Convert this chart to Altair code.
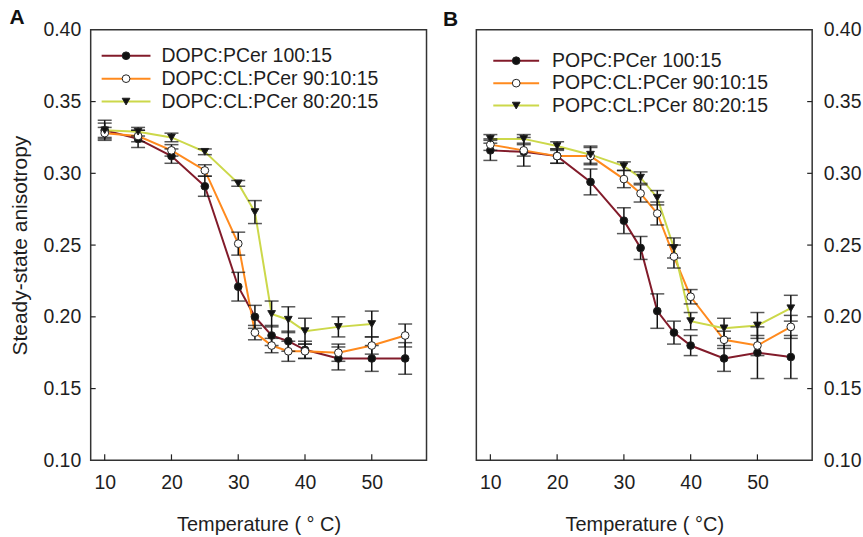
import altair as alt
import pandas as pd

# ---- data ----
temps = [10, 15, 20, 25, 30, 32.5, 35, 37.5, 40, 45, 50, 55]

names_A = ["DOPC:PCer 100:15", "DOPC:CL:PCer 90:10:15", "DOPC:CL:PCer 80:20:15"]
names_B = ["POPC:PCer 100:15", "POPC:CL:PCer 90:10:15", "POPC:CL:PCer 80:20:15"]

a1 = [0.330, 0.324, 0.312, 0.291, 0.221, 0.200, 0.187, 0.183, 0.177, 0.171, 0.171, 0.171]
a1_err = [0.005, 0.006, 0.005, 0.007, 0.010, 0.008, 0.007, 0.007, 0.006, 0.008, 0.009, 0.011]
a2 = [0.328, 0.326, 0.316, 0.302, 0.251, 0.189, 0.180, 0.176, 0.176, 0.175, 0.180, 0.187]
a2_err = [0.004, 0.004, 0.004, 0.004, 0.008, 0.005, 0.005, 0.007, 0.005, 0.006, 0.006, 0.008]
a3 = [0.330, 0.329, 0.325, 0.315, 0.293, 0.273, 0.202, 0.198, 0.190, 0.193, 0.195, None]
a3_err = [0.007, 0.003, 0.003, 0.002, 0.002, 0.008, 0.009, 0.009, 0.009, 0.007, 0.009, None]

b1 = [0.316, 0.315, 0.312, 0.294, 0.267, 0.248, 0.204, 0.189, 0.180, 0.171, 0.175, 0.172]
b1_err = [0.007, 0.010, 0.005, 0.009, 0.009, 0.008, 0.012, 0.008, 0.007, 0.009, 0.018, 0.015]
b2 = [0.320, 0.316, 0.312, 0.312, 0.296, 0.286, 0.272, 0.242, 0.214, 0.184, 0.180, 0.193]
b2_err = [0.004, 0.004, 0.005, 0.006, 0.006, 0.006, 0.008, 0.008, 0.005, 0.006, 0.007, 0.008]
b3 = [0.324, 0.324, 0.319, 0.313, 0.305, 0.297, 0.283, 0.248, 0.197, 0.192, 0.194, 0.206]
b3_err = [0.003, 0.003, 0.003, 0.006, 0.003, 0.004, 0.005, 0.007, 0.006, 0.007, 0.009, 0.009]

x_ticks = [10, 20, 30, 40, 50]
y_ticks = [0.10, 0.15, 0.20, 0.25, 0.30, 0.35, 0.40]

line_colors = ["#821b2a", "#ff8a1e", "#ccd84a"]
marker_shapes = ["circle", "circle", "triangle-down"]
marker_fills = ["#111111", "#ffffff", "#111111"]

# ---- layout ----
W, H = 337, 432
XDOM = [7.9, 58.2]
YDOM = [0.10, 0.40]
FONT = "Liberation Sans"
TXT = "#1e1e1e"


def long_df(names, vals, errs):
    rows = []
    for nm, vs, es in zip(names, vals, errs):
        for t, v, e in zip(temps, vs, es):
            if v is None:
                continue
            rows.append({"name": nm, "t": t, "v": v, "lo": v - e, "hi": v + e})
    return pd.DataFrame(rows)


def panel(names, vals, errs, side, label, label_xy, leg_x, leg_y0, leg_dy, text_x, xtitle):
    df = long_df(names, vals, errs)
    xs = alt.Scale(domain=XDOM, nice=False, zero=False)
    ys = alt.Scale(domain=YDOM, nice=False, zero=False)
    x_axis = alt.Axis(values=x_ticks, ticks=False, domain=False, grid=False,
                      labelPadding=13, titlePadding=23, title=xtitle, format="d")
    if side == "left":
        y_axis = alt.Axis(values=y_ticks, ticks=False, domain=False, grid=False, orient="left",
                          format=".2f", labelPadding=10, titlePadding=12,
                          title="Steady-state anisotropy", titleFontSize=21)
    else:
        y_axis = alt.Axis(values=y_ticks, ticks=False, domain=False, grid=False, orient="right",
                          format=".2f", labelPadding=11, title=None)
    X = alt.X("t:Q", scale=xs, axis=x_axis)
    cscale = alt.Scale(domain=names, range=line_colors)

    lines = alt.Chart(df).mark_line(strokeWidth=2).encode(
        x=X, y=alt.Y("v:Q", scale=ys, axis=y_axis),
        color=alt.Color("name:N", scale=cscale, legend=None),
        order=alt.Order("t:Q"))
    ebars = alt.Chart(df).mark_errorbar(
        ticks={"size": 14}, thickness=1.5, color="#111111").encode(
        x=X, y=alt.Y("lo:Q", scale=ys, axis=y_axis), y2="hi:Q")
    pts = alt.Chart(df).mark_point(size=60, strokeWidth=1, opacity=1, fillOpacity=1,
                                   stroke="#222222").encode(
        x=X, y=alt.Y("v:Q", scale=ys, axis=y_axis),
        shape=alt.Shape("name:N", scale=alt.Scale(domain=names, range=marker_shapes), legend=None),
        fill=alt.Fill("name:N", scale=alt.Scale(domain=names, range=marker_fills), legend=None))

    xt = alt.Chart(pd.DataFrame({"t": x_ticks})).mark_rule(color="#222222", strokeWidth=1.2).encode(
        x=X, y=alt.value(H), y2=alt.value(H - 6))
    if side == "left":
        yt = alt.Chart(pd.DataFrame({"v": y_ticks[1:-1]})).mark_rule(color="#222222", strokeWidth=1.2).encode(
            y=alt.Y("v:Q", scale=ys, axis=y_axis), x=alt.value(0), x2=alt.value(5))
    else:
        yt = alt.Chart(pd.DataFrame({"v": y_ticks[1:-1]})).mark_rule(color="#222222", strokeWidth=1.2).encode(
            y=alt.Y("v:Q", scale=ys, axis=y_axis), x=alt.value(W - 5), x2=alt.value(W))

    layers = [lines, ebars, pts, xt, yt]

    # manual legend: line + marker + text, one row per series
    leg_df = pd.DataFrame({"name": names})
    for i, nm in enumerate(names):
        ly = leg_y0 + leg_dy * i
        row = alt.Chart(leg_df).transform_filter(alt.datum.name == nm)
        layers.append(row.mark_rule(strokeWidth=2, color=line_colors[i]).encode(
            x=alt.value(leg_x[0]), x2=alt.value(leg_x[1]), y=alt.value(ly)))
        layers.append(row.mark_point(size=60, strokeWidth=1, opacity=1, fillOpacity=1,
                                     stroke="#222222", fill=marker_fills[i],
                                     shape=marker_shapes[i]).encode(
            x=alt.value((leg_x[0] + leg_x[1]) / 2), y=alt.value(ly)))
        layers.append(row.mark_text(align="left", baseline="middle", fontSize=19.5,
                                    font=FONT, color=TXT).encode(
            x=alt.value(text_x), y=alt.value(ly), text="name:N"))

    lab = alt.Chart(pd.DataFrame({"lab": [label]})).mark_text(
        fontSize=21, fontWeight="bold", font=FONT, color="#111111",
        align="center", baseline="middle").encode(
        x=alt.value(label_xy[0]), y=alt.value(label_xy[1]), text="lab:N")
    layers.append(lab)

    return alt.layer(*layers).properties(width=W, height=H)


pA = panel(names_A, [a1, a2, a3], [a1_err, a2_err, a3_err], "left", "A", (-74, -12),
           (11, 60), 26, 23, 71, "Temperature ( \u00b0 C)")
pB = panel(names_B, [b1, b2, b3], [b1_err, b2_err, b3_err], "right", "B", (-26, -10),
           (17, 63), 31, 22.5, 76, "Temperature ( \u00b0C)")

chart = alt.hconcat(pA, pB, spacing=14).properties(
    padding={"left": 8, "top": 5, "right": 1, "bottom": 0},
    background="white",
).configure_view(stroke="#333333", strokeWidth=1.5).configure_axis(
    labelFont=FONT, titleFont=FONT, labelFontSize=19.5, titleFontSize=20,
    labelColor=TXT, titleColor=TXT, titleFontWeight="normal")

chart.save("out.html", embed_options={"renderer": "svg", "actions": False})
